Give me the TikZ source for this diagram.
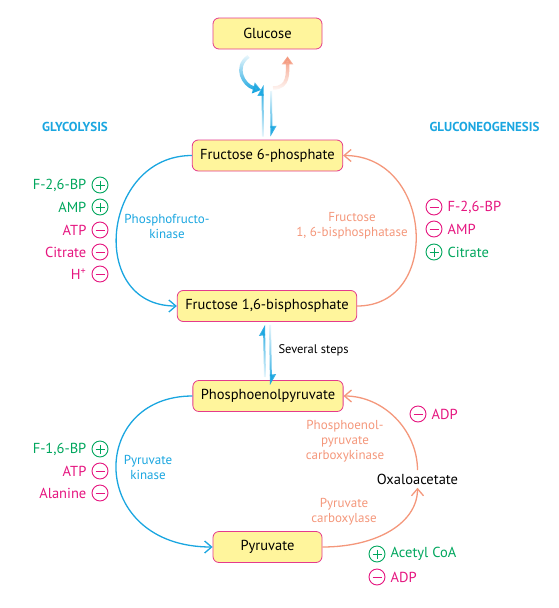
\documentclass[tikz,border=0pt]{standalone}
\usepackage{fontspec}
\setmainfont{PT Sans}
\usetikzlibrary{arrows.meta,calc,fadings,positioning}

\definecolor{glyblue}{HTML}{1AA6E0}
\definecolor{neosalmon}{HTML}{F4977B}
\definecolor{actgreen}{HTML}{00A65D}
\definecolor{inhpink}{HTML}{E5157F}
\definecolor{boxfill}{HTML}{FFF59C}
\definecolor{boxline}{HTML}{E43A8D}

\tikzfading[name=fadetop, top color=transparent!92, bottom color=transparent!0]
\tikzfading[name=fadebottom, top color=transparent!0, bottom color=transparent!92]

\tikzset{
	metab/.style={draw=boxline, fill=boxfill, line width=0.8pt, rounded corners=6pt, minimum width=109pt, minimum height=31pt, inner xsep=8pt, font=\fontsize{14.5}{16}\selectfont},
	enzyme/.style={align=center, font=\fontsize{13}{15}\selectfont},
	regtext/.style={inner sep=1pt, font=\fontsize{14.5}{16}\selectfont},
	regcirc/.style={circle, draw, line width=0.9pt, minimum size=16pt, inner sep=0pt},
	plusreg/.style={regcirc, draw=actgreen, path picture={\draw[actgreen, line width=0.9pt] ([xshift=-4.5pt]path picture bounding box.center) -- ([xshift=4.5pt]path picture bounding box.center) ([yshift=-4.5pt]path picture bounding box.center) -- ([yshift=4.5pt]path picture bounding box.center);}},
	minusreg/.style={regcirc, draw=inhpink, path picture={\draw[inhpink, line width=0.9pt] ([xshift=-4.5pt]path picture bounding box.center) -- ([xshift=4.5pt]path picture bounding box.center);}},
	cyclearc/.style={line width=1.3pt, -{Straight Barb[length=7pt,width=12pt]}},
	revarrow/.style={glyblue, line width=2pt, -{Triangle[left,length=9pt,width=10pt]}},
	hexarrow/.style={line width=3.5pt, -{Triangle[length=8pt,width=11pt]}},
}

\begin{document}
\begin{tikzpicture}[x=1pt, y=1pt]
			%%%%% START %%%%%
			\useasboundingbox (0, 0) rectangle (559, -608);
			
			\node[metab] (glc) at (267.5, -33.5) {Glucose};
			\node[metab] (f6p) at (267.5, -155.5) {Fructose 6-phosphate};
			\node[metab] (f16) at (267, -306) {Fructose 1,6-bisphosphate};
			\node[metab] (pep) at (268, -396) {Phosphoenolpyruvate};
			\node[metab] (pyr) at (267.5, -547) {Pyruvate};
			\node[font=\fontsize{14.5}{16}\selectfont] (oaa) at (417.5, -479) {Oxaloacetate};
			\coordinate (hub) at (267, -88);
			
			\node[glyblue, font=\fontsize{13}{15}\selectfont\bfseries] (glytitle) at (75, -127) {GLYCOLYSIS};
			\node[glyblue, font=\fontsize{13}{15}\selectfont\bfseries] (neotitle) at (484.5, -127) {GLUCONEOGENESIS};
			
			% hexokinase / glucose 6-phosphatase
			\draw[hexarrow, glyblue, path fading=fadetop] ($(glc.south)+(-19,-7)$) to[out=215, in=165, looseness=1.3] ($(hub)+(-6,-2)$);
			\draw[hexarrow, neosalmon, path fading=fadebottom] ($(hub)+(6,0)$) to[out=0, in=-90, looseness=1.2] ($(glc.south)+(20,-7)$);
			\draw[revarrow, path fading=fadebottom] ($(f6p.north)+(-7.5,3)$) ($(f6p.north)+(-4.5,3)$) -- ($(hub)+(-4.5,3)$);
			\draw[revarrow, path fading=fadetop] ($(hub)+(7.5,-3)$) ($(hub)+(4,-3)$) -- ($(f6p.north)+(4,3)$);
			
			% several steps
			\draw[revarrow, path fading=fadebottom] ($(pep.north)+(-6,3)$) ($(pep.north)+(-3,3)$) -- ($(f16.south)+(-3,-3)$);
			\draw[revarrow, path fading=fadetop] ($(f16.south)+(6,-3)$) ($(f16.south)+(3,-3)$) -- ($(pep.north)+(3,-5)$);
			\node[anchor=west, font=\fontsize{12.5}{14}\selectfont] (steps) at (275, -350) {Several steps};
			
			% upper cycle
			\draw[cyclearc, glyblue] (f6p.west) .. controls +(-90,0) and +(-90,0) .. (f16.west);
			\draw[cyclearc, neosalmon] (f16.east) .. controls +(85,0) and +(90,0) .. (f6p.east);
			\node[enzyme, glyblue] (pfk) at (167, -226) {Phosphofructo-\\kinase};
			\node[enzyme, neosalmon] (fbpase) at (352, -226) {Fructose\\1, 6-bisphosphatase};
			
			% lower cycle
			\draw[cyclearc, glyblue] (pep.west) .. controls +(-105,0) and +(-125,0) .. (pyr.west);
			\draw[cyclearc, neosalmon] (pyr.east) .. controls +(55,0) and +(0,-35) .. (oaa.south);
			\draw[cyclearc, neosalmon] (oaa.north) .. controls +(0,40) and +(40,0) .. (pep.east);
			\node[enzyme, glyblue] (pk) at (148, -467) {Pyruvate\\kinase};
			\node[enzyme, neosalmon] (pepck) at (345, -441) {Phosphoenol-\\pyruvate\\carboxykinase};
			\node[enzyme, neosalmon] (pc) at (344, -512) {Pyruvate\\carboxylase};
			
			% regulators of phosphofructokinase
			\node[plusreg] (pfk1) at (100, -185) {};
			\node[regtext, actgreen, left=4pt of pfk1] {F-2,6-BP};
			\node[plusreg] (pfk2) at (100, -207) {};
			\node[regtext, actgreen, left=4pt of pfk2] {AMP};
			\node[minusreg] (pfk3) at (100, -230) {};
			\node[regtext, inhpink, left=4pt of pfk3] {ATP};
			\node[minusreg] (pfk4) at (100, -252) {};
			\node[regtext, inhpink, left=4pt of pfk4] {Citrate};
			\node[minusreg] (pfk5) at (100, -274) {};
			\node[regtext, inhpink, left=4pt of pfk5] {H\textsuperscript{+}};
			
			% regulators of fructose 1,6-bisphosphatase
			\node[minusreg] (fbp1) at (434, -207) {};
			\node[regtext, inhpink, right=4pt of fbp1] {F-2,6-BP};
			\node[minusreg] (fbp2) at (434, -229) {};
			\node[regtext, inhpink, right=4pt of fbp2] {AMP};
			\node[plusreg] (fbp3) at (434, -252) {};
			\node[regtext, actgreen, right=4pt of fbp3] {Citrate};
			
			% regulators of pyruvate kinase
			\node[plusreg] (pk1) at (100, -449) {};
			\node[regtext, actgreen, left=4pt of pk1] {F-1,6-BP};
			\node[minusreg] (pk2) at (100, -471) {};
			\node[regtext, inhpink, left=4pt of pk2] {ATP};
			\node[minusreg] (pk3) at (100, -493) {};
			\node[regtext, inhpink, left=4pt of pk3] {Alanine};
			
			% regulators of the carboxylases
			\node[minusreg] (pck1) at (418, -414) {};
			\node[regtext, inhpink, right=4pt of pck1] {ADP};
			\node[plusreg] (pc1) at (377, -554) {};
			\node[regtext, actgreen, right=4pt of pc1] {Acetyl CoA};
			\node[minusreg] (pc2) at (377, -577) {};
			\node[regtext, inhpink, right=4pt of pc2] {ADP};
			
			%%%%% END %%%%%
\end{tikzpicture}
\end{document}
